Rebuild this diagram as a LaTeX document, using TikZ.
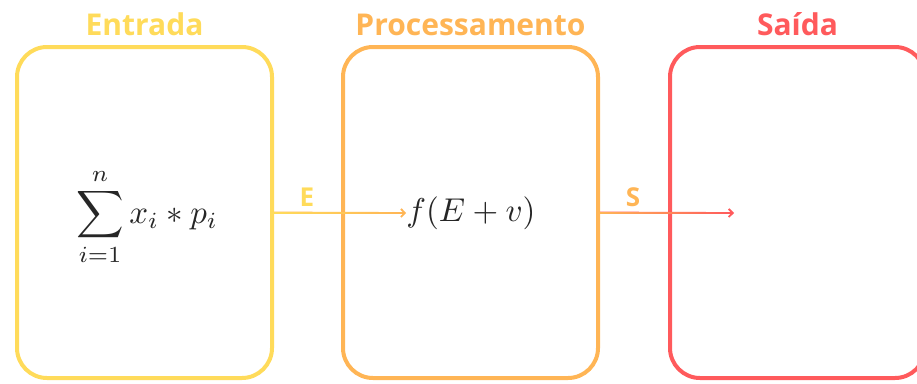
\documentclass[tikz,border=0pt]{standalone}
\usepackage{amsmath}
\usepackage{graphicx}
\usepackage{fontspec}
\setsansfont{Open Sans}
\usetikzlibrary{positioning,arrows.meta}
\definecolor{amarelo}{HTML}{FFDB5A}
\definecolor{laranja}{HTML}{FFB555}
\definecolor{vermelho}{HTML}{FF5A5C}
\tikzset{etapa/.style={rectangle,draw,line width=4pt,rounded corners=30pt,
		minimum width=255pt,minimum height=331pt,inner sep=0pt},
	titulo/.style={font=\sffamily\bfseries\fontsize{30}{32}\selectfont,inner sep=0pt,anchor=base},
	rotulo/.style={font=\sffamily\bfseries\fontsize{26}{28}\selectfont,inner sep=0pt,anchor=base},
	formula/.style={inner sep=0pt,text=black!85},
	seta/.style={line width=1.8pt,-{Straight Barb[length=4pt,width=8pt]}},
}
\newcommand{\grande}[1]{\scalebox{3.3}{#1}}

\begin{document}
\begin{tikzpicture}[x=1pt,y=-1pt]
	\useasboundingbox (0,0) rectangle (917,383);
	\clip (0,0) rectangle (917,383);
	\node[etapa,amarelo] (ent) at (144.5,212.5){};
	\node[etapa,laranja] (proc) at (470.5,212.5){};
	\node[etapa,vermelho] (sai) at (797.5,212.5){};
	
	\node[titulo,amarelo] (t1) at (144.5,35){Entrada};
	\node[titulo,laranja] (t2) at (470.5,35){Processamento};
	\node[titulo,vermelho] (t3) at (797.5,35){Saída};
	
	\node[formula] (soma) at (147,217){\grande{$\displaystyle\sum_{i=1}^{n} x_i * p_i$}};
	\node[formula] (fun) at (471,213){\grande{$f(E+v)$}};
	\coordinate (fim) at (734,213);
	
	% setas com degrade de cor
	\draw[seta,laranja] (ent.east) -- (fun.west);
	\shade[left color=amarelo,right color=laranja] ([yshift=-0.9pt]ent.east) rectangle ([xshift=-3pt,yshift=0.9pt]fun.west);
	\draw[seta,vermelho] (proc.east) -- (fim);
	\shade[left color=laranja,right color=vermelho] ([yshift=-0.9pt]proc.east) rectangle ([xshift=-3pt,yshift=0.9pt]fim);
	
	\node[rotulo,amarelo] (e) at (307,206){E};
	\node[rotulo,laranja] (s) at (633,206){S};
\end{tikzpicture}
\end{document}
